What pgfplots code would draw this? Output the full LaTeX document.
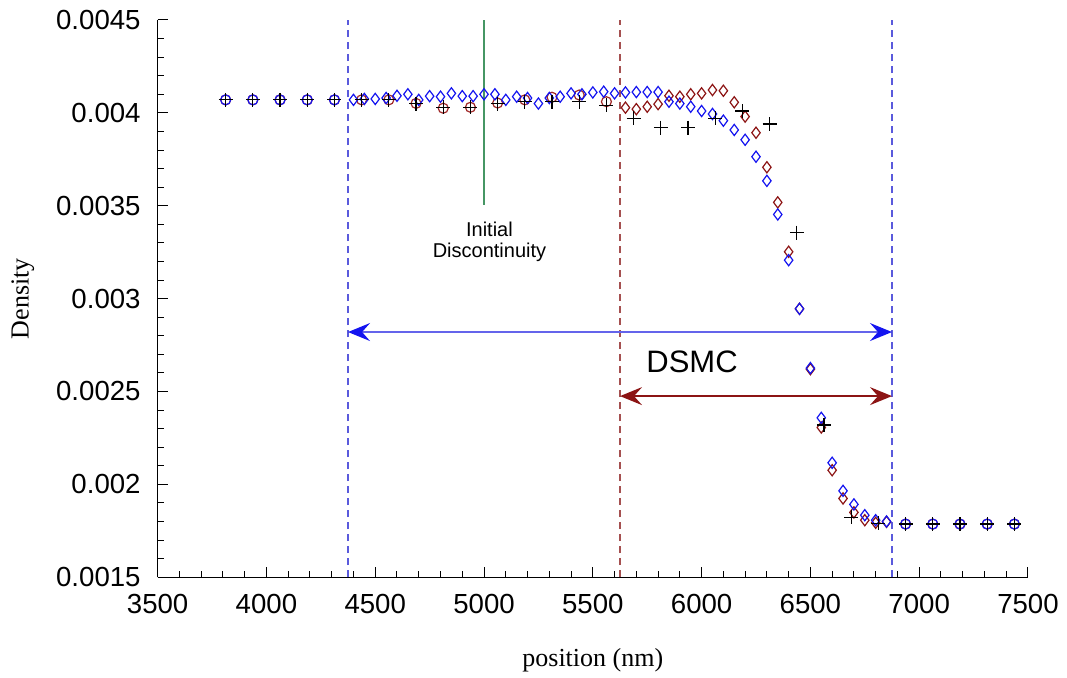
\documentclass[border=0pt]{standalone}
\usepackage{pgfplots}
\pgfplotsset{compat=1.18}
\usepackage{fontspec}
\setmainfont{Liberation Sans}
\newfontfamily\serif{Liberation Serif}
\usetikzlibrary{arrows.meta}
\definecolor{dred}{RGB}{140,20,20}
\definecolor{cred}{RGB}{160,40,40}
\definecolor{mblue}{RGB}{20,20,240}
\definecolor{lblue}{RGB}{90,90,220}
\definecolor{ablue}{RGB}{100,100,235}
\definecolor{dashred}{RGB}{165,80,80}
\definecolor{gline}{RGB}{70,150,100}

\begin{document}
\begin{tikzpicture}
\begin{axis}[
  scale only axis, width=435pt, height=278.5pt,
  xmin=3500, xmax=7500, ymin=0.0015, ymax=0.0045,
  axis lines*=left,
  axis line style={-, line width=0.6pt},
  tick align=inside,
  scaled x ticks=false, scaled y ticks=false,
  xtick={3500,4000,4500,5000,5500,6000,6500,7000,7500},
  xticklabels={3500,4000,4500,5000,5500,6000,6500,7000,7500},
  minor x tick num=4,
  ytick={0.0015,0.002,0.0025,0.003,0.0035,0.004,0.0045},
  yticklabels={0.0015,0.002,0.0025,0.003,0.0035,0.004,0.0045},
  minor y tick num=4,
  major tick length=5pt, minor tick length=3pt,
  tick style={black, line width=0.5pt},
  ticklabel style={font=\fontsize{13.8}{16}\selectfont},
  xticklabel style={yshift=-5pt},
  yticklabel style={xshift=-5pt},
  xlabel={position (nm)}, ylabel={Density},
  label style={font=\serif\fontsize{13}{15}\selectfont},
  xlabel style={at={(axis description cs:0.5,-0.149)}, anchor=center},
  ylabel style={at={(axis description cs:-0.155,0.5)}, anchor=center},
  clip=false,
]
% dashed region boundaries
\draw[lblue, line width=0.6pt, dash pattern=on 3.5pt off 2.5pt] (axis cs:4375,0.0015) -- (axis cs:4375,0.0045);
\draw[dashred, line width=0.6pt, dash pattern=on 3.5pt off 2.5pt] (axis cs:5625,0.0015) -- (axis cs:5625,0.0045);
\draw[dashred, line width=1.2pt, dash pattern=on 3.5pt off 2.5pt] (axis cs:6875,0.0015) -- (axis cs:6875,0.0045);
\draw[lblue, line width=1.1pt, dash pattern=on 3.5pt off 2.5pt] (axis cs:6875,0.0015) -- (axis cs:6875,0.0045);
% initial discontinuity
\draw[gline, line width=0.6pt] (axis cs:5000,0.003504) -- (axis cs:5000,0.0045);
\node[align=center, font=\fontsize{10}{10.5}\selectfont] at (axis cs:5025,0.003304) {Initial\\Discontinuity};
% arrows
\draw[ablue, line width=0.7pt, {Stealth[length=11pt,width=9pt,inset=4pt,color=mblue]}-{Stealth[length=11pt,width=9pt,inset=4pt,color=mblue]}] (axis cs:4375,0.00282) -- (axis cs:6875,0.00282);
\draw[dred, line width=0.7pt, {Stealth[length=11pt,width=9pt,inset=4pt]}-{Stealth[length=11pt,width=9pt,inset=4pt]}] (axis cs:5625,0.002475) -- (axis cs:6875,0.002475);
\node[font=\fontsize{15.5}{18}\selectfont] at (axis cs:5956,0.002658) {DSMC};

% red circles (coarse, outside red region)
\addplot[only marks, mark=o, mark size=2.5pt, mark options={cred, line width=0.6pt}] coordinates {
(3812.5,0.00407) (3937.5,0.00407) (4062.5,0.00407) (4187.5,0.00407) (4312.5,0.00407)
(4437.5,0.00407) (4562.5,0.00407) (4687.5,0.004051) (4812.5,0.004025) (4937.5,0.00403)
(5062.5,0.004053) (5187.5,0.00407) (5312.5,0.004084) (5437.5,0.004096) (5562.5,0.00406)
(6937.5,0.001786) (7062.5,0.001786) (7187.5,0.001786) (7312.5,0.001786) (7437.5,0.001786)
};
% blue circles (coarse, outside blue region)
\addplot[only marks, mark=o, mark size=2.5pt, mark options={mblue, line width=0.6pt}] coordinates {
(3812.5,0.00407) (3937.5,0.00407) (4062.5,0.00407) (4187.5,0.00407) (4312.5,0.00407)
(6937.5,0.001786) (7062.5,0.001786) (7187.5,0.001786) (7312.5,0.001786) (7437.5,0.001786)
};
% red diamonds (fine, red region)
\addplot[only marks, mark=diamond, mark size=2.8pt, mark options={dred, line width=0.6pt}] coordinates {
(5650,0.004028) (5700,0.00402) (5750,0.004033) (5800,0.004047) (5850,0.004092)
(5900,0.004087) (5950,0.0041) (6000,0.004105) (6050,0.004123) (6100,0.004119)
(6150,0.004057) (6200,0.00398) (6250,0.003893) (6300,0.003707) (6350,0.003518)
(6400,0.003252) (6450,0.002945) (6500,0.00262) (6550,0.002306) (6600,0.002076)
(6650,0.001924) (6700,0.001849) (6750,0.001807) (6800,0.001793) (6850,0.001798)
};
% blue diamonds (fine, blue region)
\addplot[only marks, mark=diamond, mark size=2.8pt, mark options={mblue, line width=0.6pt}] coordinates {
(4400,0.00407) (4450,0.004075) (4500,0.004075) (4550,0.00408) (4600,0.004092)
(4650,0.0041) (4700,0.00407) (4750,0.00409) (4800,0.004087) (4850,0.004105)
(4900,0.00409) (4950,0.00409) (5000,0.0041) (5050,0.0041) (5100,0.00407)
(5150,0.004087) (5200,0.00408) (5250,0.00405) (5300,0.00408) (5350,0.004087)
(5400,0.004105) (5450,0.0041) (5500,0.00411) (5550,0.004114) (5600,0.004105)
(5650,0.00411) (5700,0.004112) (5750,0.004112) (5800,0.004112) (5850,0.00406)
(5900,0.00405) (5950,0.004033) (6000,0.00401) (6050,0.003994) (6100,0.003958)
(6150,0.003908) (6200,0.003855) (6250,0.003764) (6300,0.003634) (6350,0.003453)
(6400,0.003207) (6450,0.002945) (6500,0.002626) (6550,0.002358) (6600,0.002116)
(6650,0.001965) (6700,0.001892) (6750,0.001834) (6800,0.001807) (6850,0.0018)
};
% black plus (coarse continuum)
\addplot[only marks, mark=+, mark size=3.5pt, mark options={black, line width=0.6pt}] coordinates {
(3812.5,0.00407) (3937.5,0.00407) (4062.5,0.00407) (4187.5,0.00407) (4312.5,0.00407)
(4437.5,0.00407) (4562.5,0.00407) (4687.5,0.00405) (4812.5,0.00403) (4937.5,0.00403)
(5062.5,0.00405) (5187.5,0.00406) (5312.5,0.00406) (5437.5,0.00406) (5562.5,0.00404)
(5687.5,0.00397) (5812.5,0.00392) (5937.5,0.00392) (6062.5,0.00397) (6187.5,0.00401)
(6312.5,0.00394) (6437.5,0.003355) (6562.5,0.00232) (6687.5,0.001823) (6812.5,0.001791)
(6937.5,0.001786) (7062.5,0.001786) (7187.5,0.001786) (7312.5,0.001786) (7437.5,0.001786)
};
\end{axis}
\pgfresetboundingbox
\path[use as bounding box] ([shift={(-78.8pt,-50pt)}]current axis.south west) rectangle ([shift={(19.5pt,10pt)}]current axis.north east);
\end{tikzpicture}
\end{document}
